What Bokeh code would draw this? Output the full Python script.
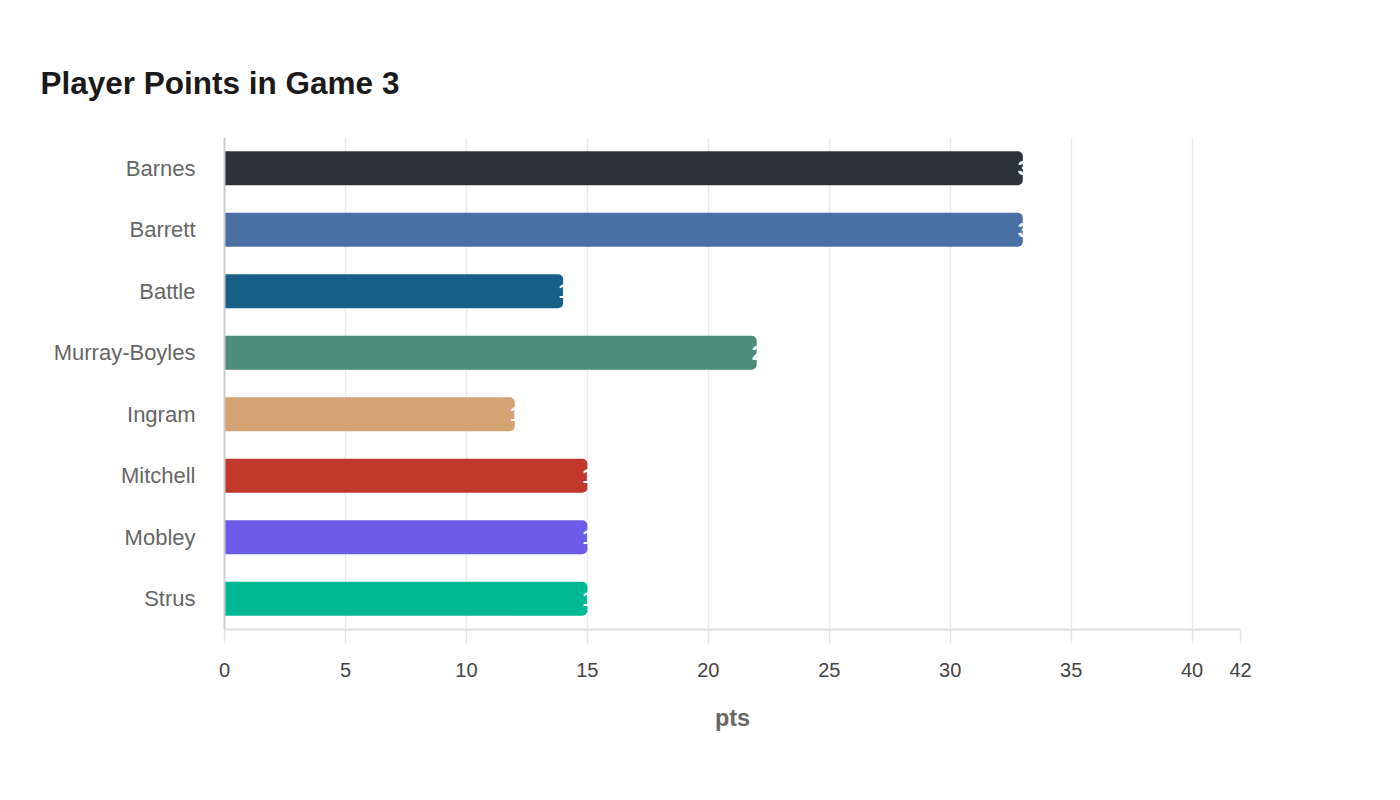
from bokeh.plotting import figure
from bokeh.models import FactorRange, Range1d, FixedTicker, ColumnDataSource, Title
from bokeh.embed import file_html
from bokeh.resources import INLINE
from bokeh.core.properties import value

players = ["Barnes", "Barrett", "Battle", "Murray-Boyles", "Ingram", "Mitchell", "Mobley", "Strus"]
points = [33, 33, 14, 22, 12, 15, 15, 15]
colors = ["#2c3437", "#4a6fa5", "#17608a", "#4e8d7c", "#d4a373", "#c0392b", "#6c5ce7", "#00b894"]
x_ticks = [0, 5, 10, 15, 20, 25, 30, 35, 40, 42]

src = ColumnDataSource(dict(player=players, pts=points, color=colors,
                            label=[str(v) for v in points]))

p = figure(width=1384, height=784, output_backend="svg", toolbar_location=None,
           y_range=FactorRange(factors=players[::-1], range_padding=0),
           x_range=Range1d(0, 42),
           min_border_left=224, min_border_right=144, min_border_top=137, min_border_bottom=155)

t = Title(text="Player Points in Game 3", align="left", offset=-184,
          text_font="Liberation Sans", text_font_size="31.5px", text_font_style="bold",
          text_color="#1a1a1a", standoff=74)
p.add_layout(t, "above")

p.hbar(y="player", right="pts", left=0, height=0.55, color="color", source=src,
       line_color=None, border_radius=(0, 5, 5, 0))
p.text(x="pts", y="player", text="label", source=src, x_offset=-5,
       text_align="left", text_baseline="middle", text_color="white",
       text_font=value("Liberation Sans"), text_font_size="21px", text_font_style="bold")

p.outline_line_color = None
p.ygrid.grid_line_color = None
p.xgrid.grid_line_color = "#ebebeb"
p.xgrid.grid_line_width = 1.5
p.xaxis.ticker = FixedTicker(ticks=x_ticks)
p.xaxis.minor_tick_line_color = None
p.xaxis.axis_line_color = "#dddddd"
p.xaxis.axis_line_width = 2
p.xaxis.major_tick_line_color = "#e6e6e6"
p.xaxis.major_tick_line_width = 1.5
p.xaxis.major_tick_in = 0
p.xaxis.major_tick_out = 14
p.xaxis.major_label_standoff = 19
p.xaxis.major_label_text_font = "Liberation Sans"
p.xaxis.major_label_text_font_size = "20px"
p.xaxis.major_label_text_color = "#444444"
p.xaxis.axis_label = "pts"
p.xaxis.axis_label_text_font = "Liberation Sans"
p.xaxis.axis_label_text_font_size = "23.5px"
p.xaxis.axis_label_text_font_style = "bold"
p.xaxis.axis_label_text_color = "#666666"
p.xaxis.axis_label_standoff = 25

p.yaxis.axis_line_color = "#cccccc"
p.yaxis.axis_line_width = 2
p.yaxis.major_tick_line_color = None
p.yaxis.minor_tick_line_color = None
p.yaxis.major_tick_out = 0
p.yaxis.major_tick_in = 0
p.yaxis.major_label_standoff = 29
p.yaxis.major_label_text_font = "Liberation Sans"
p.yaxis.major_label_text_font_size = "22px"
p.yaxis.major_label_text_color = "#666666"

open("out.html", "w").write(file_html(p, INLINE))
